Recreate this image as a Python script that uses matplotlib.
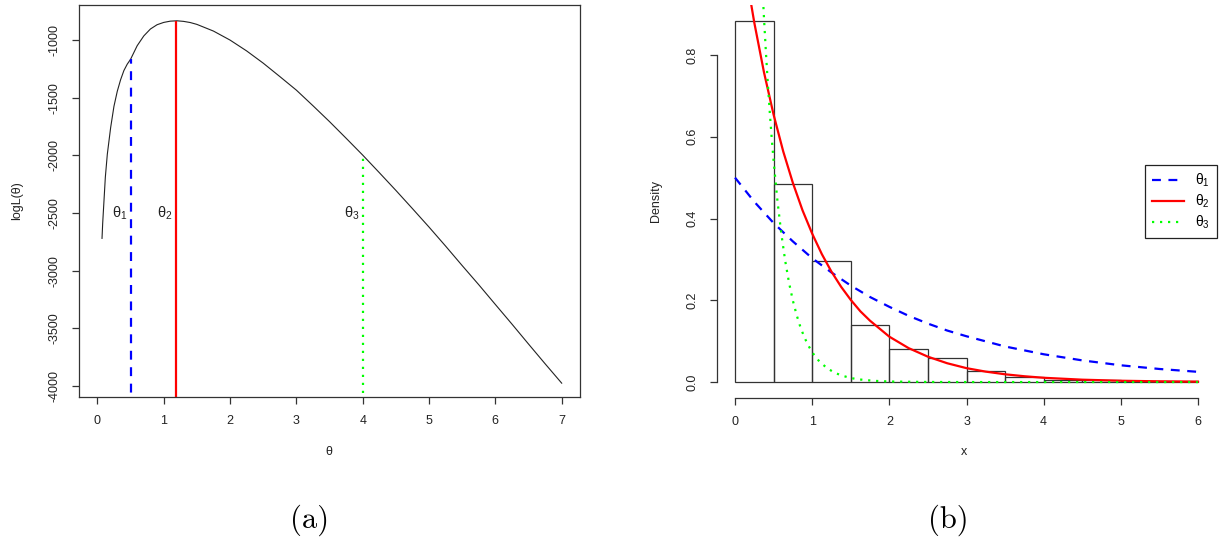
import matplotlib
matplotlib.use("Agg")
import matplotlib.pyplot as plt
from matplotlib.lines import Line2D

plt.rcParams['font.family'] = ['Liberation Sans', 'DejaVu Sans']
plt.rcParams['mathtext.fontset'] = 'custom'
plt.rcParams['mathtext.rm'] = 'Liberation Sans'
plt.rcParams['mathtext.it'] = 'Liberation Sans'

# ---------------- data: panel (a) log-likelihood ----------------
theta = [0.07, 0.08, 0.10, 0.12, 0.15, 0.20, 0.25, 0.30, 0.35, 0.40, 0.45, 0.50,
         0.60, 0.70, 0.80, 0.90, 1.00, 1.10, 1.20, 1.30, 1.40, 1.50, 1.75, 2.00,
         2.25, 2.50, 2.75, 3.00, 3.25, 3.50, 3.75, 4.00, 4.25, 4.50, 4.75, 5.00,
         5.25, 5.50, 5.75, 6.00, 6.25, 6.50, 6.75, 7.00]
logL = [-2720, -2590, -2390, -2190, -1990, -1760, -1575, -1445, -1345, -1265, -1210, -1168,
        -1050, -965, -905, -868, -848, -837, -834, -839, -849, -865, -923, -1001,
        -1095, -1201, -1317, -1435, -1570, -1708, -1852, -1998, -2150, -2304, -2462, -2622,
        -2787, -2956, -3122, -3293, -3463, -3636, -3807, -3975]
theta_marks = [0.5, 1.18, 4.0]
mark_tops = [-1168, -834, -1998]
mark_labels = ['θ$_1$', 'θ$_2$', 'θ$_3$']
a_xticks = [0, 1, 2, 3, 4, 5, 6, 7]
a_yticks = [-1000, -1500, -2000, -2500, -3000, -3500, -4000]

# ---------------- data: panel (b) histogram + densities ----------------
bin_left = [0.0, 0.5, 1.0, 1.5, 2.0, 2.5, 3.0, 3.5, 4.0, 4.5, 5.0, 5.5]
bin_density = [0.884, 0.484, 0.295, 0.140, 0.0815, 0.0586, 0.026, 0.013,
               0.006, 0.004, 0.002, 0.002]
x_dens = [0.0, 0.25, 0.5, 0.75, 1.0, 1.25, 1.5, 1.75, 2.0, 2.25, 2.5, 2.75, 3.0,
          3.5, 4.0, 4.5, 5.0, 5.5, 6.0]
dens_theta1 = [0.500, 0.441, 0.389, 0.344, 0.303, 0.268, 0.236, 0.208, 0.184,
               0.162, 0.143, 0.126, 0.112, 0.087, 0.068, 0.053, 0.041, 0.032, 0.025]
x_dens2 = [0.0, 0.125, 0.25, 0.375, 0.5, 0.625, 0.75, 0.875, 1.0, 1.125, 1.25, 1.375,
           1.5, 1.625, 1.75, 2.0, 2.25, 2.5, 2.75, 3.0, 3.25, 3.5, 3.75, 4.0,
           4.5, 5.0, 5.5, 6.0]
dens_theta2 = [1.180, 1.018, 0.879, 0.758, 0.654, 0.564, 0.487, 0.420, 0.363, 0.313,
               0.270, 0.233, 0.201, 0.173, 0.150, 0.111, 0.083, 0.062, 0.046, 0.034,
               0.0255, 0.019, 0.0142, 0.0105, 0.0058, 0.0032, 0.0018, 0.0010]
x_dens3 = [0.30, 0.325, 0.35, 0.375, 0.40, 0.425, 0.45, 0.475, 0.50, 0.55, 0.60, 0.65,
           0.70, 0.75, 0.80, 0.85, 0.90, 0.95, 1.00, 1.05, 1.10, 1.20, 1.30, 1.40,
           1.50, 1.60, 1.80, 2.00, 2.50, 3.00, 4.00, 5.00, 6.00]
dens_theta3 = [1.205, 1.090, 0.986, 0.892, 0.808, 0.731, 0.661, 0.598, 0.541, 0.443,
               0.363, 0.297, 0.243, 0.199, 0.163, 0.133, 0.109, 0.0895, 0.073, 0.060,
               0.049, 0.033, 0.022, 0.015, 0.0099, 0.0066, 0.003, 0.0013, 0.0002,
               0.0, 0.0, 0.0, 0.0]
b_xticks = [0, 1, 2, 3, 4, 5, 6]
b_yticks = [0.0, 0.2, 0.4, 0.6, 0.8]
b_yticklabels = ['0.0', '0.2', '0.4', '0.6', '0.8']
legend_labels = ['θ$_1$', 'θ$_2$', 'θ$_3$']

W, H = 1219, 547
fig = plt.figure(figsize=(W / 100, H / 100), dpi=100)


def fx(px):
    return px / W


def fy(py):
    return 1 - py / H


BLUE, RED, GREEN = '#0000FF', '#FF0000', '#00FF00'
AX_COL = '#333333'
TICK_FS = 9
DASH = (0, (4.0, 3.4))
DOT = (0, (1, 2.6))

# ---------------- panel (a) ----------------
axa = fig.add_axes([fx(79), fy(397), fx(580 - 79), (397 - 5) / H])
axa.plot(theta, logL, color='#222222', lw=0.8)
axa.vlines(theta_marks[0], -4200, mark_tops[0], colors=BLUE, lw=1.6, linestyles=DASH)
axa.vlines(theta_marks[1], -4200, mark_tops[1], colors=RED, lw=1.6)
axa.vlines(theta_marks[2], -4200, mark_tops[2], colors=GREEN, lw=1.6, linestyles=DOT)
for t, lab in zip(theta_marks, mark_labels):
    axa.annotate(lab, (t, -2500), xytext=(-2.5, 0), textcoords='offset points',
                 ha='right', va='center', fontsize=10.5, color='#222222')
axa.set_xlim(-0.277, 7.276)
axa.set_ylim(-4095, -697)
axa.set_xticks(a_xticks)
axa.set_yticks(a_yticks)
axa.set_yticklabels([str(v) for v in a_yticks], rotation=90, va='center')
for s in axa.spines.values():
    s.set_color(AX_COL)
    s.set_linewidth(0.9)
axa.tick_params(direction='out', length=5, width=0.9, color=AX_COL,
                labelsize=TICK_FS, labelcolor='#222222', pad=8)
fig.text(fx(17), fy(201), 'logL(θ)', rotation=90, ha='center', va='center',
         fontsize=9, color='#222222')
fig.text(fx(329), fy(452), 'θ', ha='center', va='center', fontsize=9, color='#222222')

# ---------------- panel (b) ----------------
axb = fig.add_axes([fx(716.5), fy(398), fx(500), (398 - 5) / H])
axb.bar(bin_left, bin_density, width=0.5, align='edge', fill=False,
        edgecolor=AX_COL, lw=0.9)
axb.plot(x_dens, dens_theta1, color=BLUE, lw=1.6, linestyle=DASH)
axb.plot(x_dens2, dens_theta2, color=RED, lw=1.6)
axb.plot(x_dens3, dens_theta3, color=GREEN, lw=1.6, linestyle=DOT)
axb.set_xlim(-0.24, 6.24)
axb.set_ylim(-0.039, 0.9223)
axb.set_xticks(b_xticks)
axb.set_yticks(b_yticks)
axb.set_yticklabels(b_yticklabels, rotation=90, va='center')
for k in ('top', 'right'):
    axb.spines[k].set_visible(False)
axb.spines['left'].set_bounds(0, 0.8)
axb.spines['bottom'].set_bounds(0, 6)
for k in ('left', 'bottom'):
    axb.spines[k].set_color(AX_COL)
    axb.spines[k].set_linewidth(0.9)
axb.tick_params(direction='out', length=5, width=0.9, color=AX_COL,
                labelsize=TICK_FS, labelcolor='#222222', pad=8)
handles = [Line2D([], [], color=BLUE, lw=1.6, linestyle=DASH),
           Line2D([], [], color=RED, lw=1.6),
           Line2D([], [], color=GREEN, lw=1.6, linestyle=DOT)]
leg = axb.legend(handles, legend_labels, loc='center right', bbox_to_anchor=(1.0, 0.5),
                 borderaxespad=0, fancybox=False, frameon=True, fontsize=10,
                 handlelength=2.3, handletextpad=0.8, labelspacing=0.25,
                 borderpad=0.5, framealpha=1)
leg.get_frame().set_edgecolor('#222222')
leg.get_frame().set_linewidth(0.9)
fig.text(fx(656), fy(201), 'Density', rotation=90, ha='center', va='center',
         fontsize=9, color='#222222')
fig.text(fx(964), fy(452), 'x', ha='center', va='center', fontsize=9, color='#222222')

# ---------------- captions ----------------
fig.text(fx(310), fy(520), '(a)', ha='center', va='center', fontsize=22, family='cmr10')
fig.text(fx(948), fy(520), '(b)', ha='center', va='center', fontsize=22, family='cmr10')

fig.savefig('out.png', dpi=100)
